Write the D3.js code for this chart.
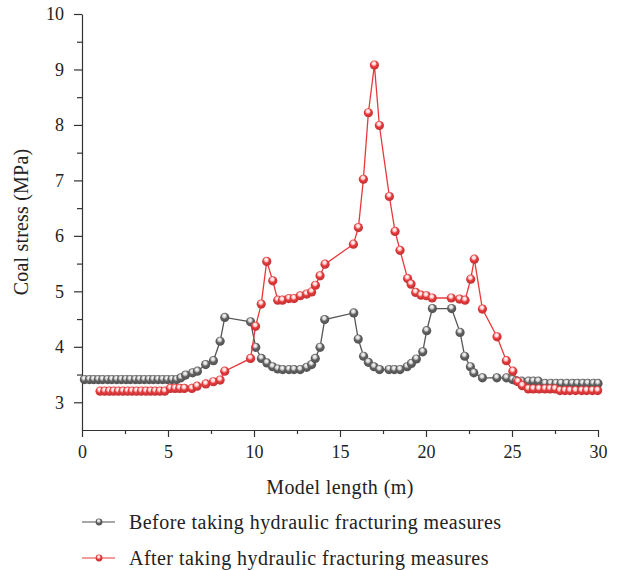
<!DOCTYPE html>
<html>
<head>
<meta charset="utf-8">
<script src="https://cdn.jsdelivr.net/npm/d3@7"></script>
<style>
  body { margin: 0; background: #fff; }
  svg { display: block; font-family: "Liberation Serif", "Times New Roman", serif; }
</style>
</head>
<body>
<svg id="chart" width="622" height="570"></svg>
<script>
// before hydraulic fracturing
const beforeX = [0.14, 0.43, 0.68, 0.95, 1.2, 1.49, 1.74, 2.02, 2.29, 2.56, 2.81, 3.1, 3.35, 3.62, 3.9, 4.15, 4.42, 4.69, 4.96, 5.23, 5.5,
  5.75, 6.02, 6.43, 6.71, 7.19, 7.64, 8.03, 8.3, 9.8, 10.1, 10.43, 10.75, 11.08, 11.38, 11.67, 12.03, 12.33, 12.69, 13.06, 13.35, 13.56, 13.84, 14.11,
  15.8, 16.06, 16.37, 16.65, 16.98, 17.3, 17.85, 18.16, 18.49, 18.9, 19.15, 19.44, 19.81, 20.04, 20.37, 21.49, 21.98, 22.25, 22.58, 22.78, 23.28,
  24.12, 24.68, 25.03, 25.25, 25.56, 25.95, 26.24, 26.53, 26.92, 27.25, 27.56, 27.85, 28.18, 28.51, 28.8, 29.11, 29.4, 29.73, 30.0];
const beforeY = [3.41, 3.41, 3.41, 3.41, 3.41, 3.41, 3.41, 3.41, 3.41, 3.41, 3.41, 3.41, 3.41, 3.41, 3.41, 3.41, 3.41, 3.41, 3.41, 3.41, 3.41,
  3.44, 3.49, 3.53, 3.56, 3.68, 3.75, 4.1, 4.53, 4.45, 3.99, 3.79, 3.71, 3.64, 3.6, 3.59, 3.59, 3.59, 3.59, 3.63, 3.68, 3.79, 3.99, 4.49,
  4.61, 4.14, 3.83, 3.72, 3.64, 3.59, 3.59, 3.59, 3.59, 3.64, 3.7, 3.78, 3.91, 4.29, 4.69, 4.69, 4.26, 3.83, 3.64, 3.53, 3.44,
  3.44, 3.44, 3.41, 3.39, 3.38, 3.38, 3.38, 3.38, 3.34, 3.34, 3.34, 3.34, 3.34, 3.34, 3.34, 3.34, 3.34, 3.34, 3.34];

// after hydraulic fracturing
const afterX = [1.05, 1.32, 1.59, 1.84, 2.11, 2.38, 2.65, 2.91, 3.18, 3.45, 3.72, 3.99, 4.26, 4.53, 4.81,
  5.14, 5.41, 5.68, 5.95, 6.39, 6.69, 7.2, 7.64, 8.03, 8.3, 9.8, 10.09, 10.42, 10.74, 11.09, 11.38, 11.65, 12.03, 12.33, 12.69, 13.06, 13.35, 13.57, 13.84, 14.13,
  15.78, 16.07, 16.36, 16.65, 17.0, 17.29, 17.87, 18.2, 18.49, 18.93, 19.13, 19.4, 19.71, 20.02, 20.36, 21.47, 21.95, 22.27, 22.6, 22.81, 23.28,
  24.13, 24.67, 25.05, 25.35, 25.6, 25.95, 26.24, 26.57, 26.92, 27.21, 27.5, 27.79, 28.08, 28.37, 28.7, 29.05, 29.34, 29.67, 29.98];
const afterY = [3.2, 3.2, 3.2, 3.2, 3.2, 3.2, 3.2, 3.2, 3.2, 3.2, 3.2, 3.2, 3.2, 3.2, 3.2,
  3.25, 3.25, 3.25, 3.25, 3.25, 3.29, 3.33, 3.37, 3.4, 3.56, 3.79, 4.37, 4.77, 5.54, 5.19, 4.84, 4.84, 4.87, 4.87, 4.92, 4.95, 4.99, 5.11, 5.28, 5.49,
  5.85, 6.15, 7.02, 8.22, 9.08, 7.99, 6.71, 6.08, 5.74, 5.23, 5.13, 4.98, 4.93, 4.92, 4.88, 4.88, 4.86, 4.84, 5.22, 5.58, 4.68,
  4.18, 3.75, 3.56, 3.37, 3.3, 3.24, 3.24, 3.24, 3.24, 3.24, 3.24, 3.21, 3.21, 3.21, 3.21, 3.21, 3.21, 3.21, 3.21];

const xTicks = [0, 5, 10, 15, 20, 25, 30];
const xMinor = [2.5, 7.5, 12.5, 17.5, 22.5, 27.5];
const yTicks = [3, 4, 5, 6, 7, 8, 9, 10];
const yMinor = [3.5, 4.5, 5.5, 6.5, 7.5, 8.5, 9.5];

const seriesNames = ["Before taking hydraulic fracturing measures", "After taking hydraulic fracturing measures"];

const series = [
  {name: seriesNames[0], pts: beforeX.map((x, i) => [x, beforeY[i]]), line: "#555555", dot: "#616161", hi: "#d4d4d4", legLine: "#8a8a8a"},
  {name: seriesNames[1], pts: afterX.map((x, i) => [x, afterY[i]]), line: "#e8383a", dot: "#e63a3c", hi: "#ffd0d0", legLine: "#f07a7a"}
];

const svg = d3.select("#chart");
const plotLeft = 82, plotRight = 598, plotTop = 14, plotBottom = 430;

const x = d3.scaleLinear().domain([0, 30]).range([plotLeft, plotRight]);
const y = d3.scaleLinear().domain([2.5, 10]).range([plotBottom, plotTop]);

const defs = svg.append("defs");
series.forEach((s, i) => {
  const g = defs.append("radialGradient")
    .attr("id", "ball" + i)
    .attr("cx", "45%").attr("cy", "40%").attr("r", "60%")
    .attr("fx", "45%").attr("fy", "30%");
  g.append("stop").attr("offset", "0%").attr("stop-color", "#ffffff");
  g.append("stop").attr("offset", "30%").attr("stop-color", s.hi);
  g.append("stop").attr("offset", "55%").attr("stop-color", s.dot);
  g.append("stop").attr("offset", "100%").attr("stop-color", d3.color(s.dot).darker(0.5));
});

// axes
const axisStyle = g => {
  g.selectAll("path, line").attr("stroke", "#333").attr("stroke-width", 1.2);
  g.selectAll("text").attr("fill", "#222").attr("font-size", 18)
    .attr("font-family", "'Liberation Serif', serif");
};

svg.append("g")
  .attr("transform", `translate(0,${plotBottom})`)
  .call(d3.axisBottom(x).tickValues(xTicks).tickSize(7).tickPadding(8).tickSizeOuter(0).tickFormat(d3.format("d")))
  .call(axisStyle);
svg.append("g")
  .attr("transform", `translate(0,${plotBottom})`)
  .call(d3.axisBottom(x).tickValues(xMinor).tickSize(4).tickFormat("").tickSizeOuter(0))
  .call(axisStyle)
  .call(g => g.select(".domain").remove());

svg.append("g")
  .attr("transform", `translate(${plotLeft},0)`)
  .call(d3.axisLeft(y).tickValues(yTicks).tickSize(8).tickPadding(10).tickSizeOuter(0).tickFormat(d3.format("d")))
  .call(axisStyle);
svg.append("g")
  .attr("transform", `translate(${plotLeft},0)`)
  .call(d3.axisLeft(y).tickValues(yMinor).tickSize(5).tickFormat("").tickSizeOuter(0))
  .call(axisStyle)
  .call(g => g.select(".domain").remove());

// axis titles
svg.append("text")
  .attr("x", (plotLeft + plotRight) / 2).attr("y", 494)
  .attr("text-anchor", "middle")
  .attr("font-size", 20).attr("letter-spacing", 0.4).attr("fill", "#222")
  .text("Model length (m)");
svg.append("text")
  .attr("transform", `translate(28,${(plotTop + plotBottom) / 2}) rotate(-90)`)
  .attr("text-anchor", "middle")
  .attr("font-size", 20).attr("letter-spacing", 0.2).attr("fill", "#222")
  .text("Coal stress (MPa)");

// series
const line = d3.line().x(d => x(d[0])).y(d => y(d[1]));
series.forEach((s, i) => {
  const g = svg.append("g");
  g.append("path")
    .attr("d", line(s.pts))
    .attr("fill", "none")
    .attr("stroke", s.line)
    .attr("stroke-width", 1.3);
  g.selectAll("circle")
    .data(s.pts)
    .join("circle")
    .attr("cx", d => x(d[0]))
    .attr("cy", d => y(d[1]))
    .attr("r", 4.6)
    .attr("fill", `url(#ball${i})`);
});

// legend
const legend = svg.append("g");
series.forEach((s, i) => {
  const ly = 522 + i * 36;
  legend.append("line")
    .attr("x1", 82).attr("x2", 115).attr("y1", ly).attr("y2", ly)
    .attr("stroke", s.legLine).attr("stroke-width", 1.5);
  legend.append("circle")
    .attr("cx", 99).attr("cy", ly).attr("r", 3.4)
    .attr("fill", `url(#ball${i})`);
  legend.append("text")
    .attr("x", 129).attr("y", ly).attr("dy", "0.33em")
    .attr("font-size", 20).attr("letter-spacing", 0.45).attr("fill", "#222")
    .text(s.name);
});
</script>
</body>
</html>
